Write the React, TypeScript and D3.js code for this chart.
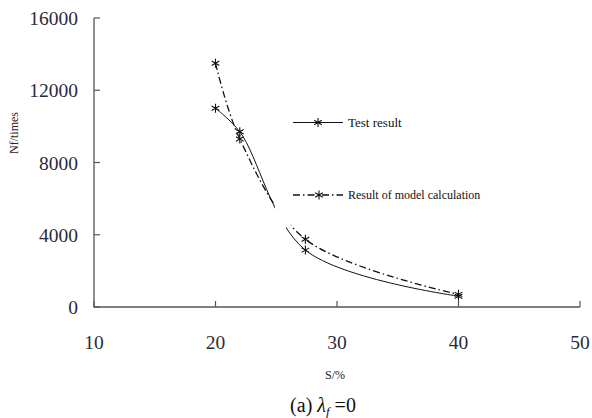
import * as d3 from 'd3';

const sValues = [20, 22, 27.4, 40];
const testResult = [11000, 9700, 3150, 600];
const modelResult = [13500, 9300, 3750, 700];
const xTicks = [10, 20, 30, 40, 50];
const yTicks = [0, 4000, 8000, 12000, 16000];
// the curves are broken in the original between these S values
const testGap = [24.9, 25.8];
const modelGap = [24.9, 26.2];

const W = 592;
const H = 418;
const serif = '"Liberation Serif", "DejaVu Serif", serif';

const x = d3.scaleLinear().domain([10, 50]).range([94, 580]);
const y = d3.scaleLinear().domain([0, 16000]).range([307, 18]);

const line = d3
  .line<[number, number]>()
  .x((d) => x(d[0]))
  .y((d) => y(d[1]))
  .curve(d3.curveCatmullRom.alpha(0.5));

function Star({ cx, cy, r = 4.5 }: { cx: number; cy: number; r?: number }) {
  const a = r * 0.85;
  const b = r * 0.5;
  return (
    <path
      d={`M${cx},${cy - r}L${cx},${cy + r}M${cx - a},${cy - b}L${cx + a},${cy + b}M${cx - a},${cy + b}L${cx + a},${cy - b}`}
      stroke="#111"
      strokeWidth={1.1}
      fill="none"
    />
  );
}

export default function App() {
  const testPts = sValues.map((s, i) => [s, testResult[i]] as [number, number]);
  const modelPts = sValues.map((s, i) => [s, modelResult[i]] as [number, number]);

  const clipRects = (id: string, gap: number[]) => (
    <clipPath id={id}>
      <rect x={0} y={0} width={x(gap[0])} height={H} />
      <rect x={x(gap[1])} y={0} width={W - x(gap[1])} height={H} />
    </clipPath>
  );

  return (
    <svg
      width={W}
      height={H}
      style={{ position: 'absolute', left: 0, top: 0, background: '#fff' }}
      fontFamily={serif}
    >
      <defs>
        {clipRects('gapTest', testGap)}
        {clipRects('gapModel', modelGap)}
      </defs>

      {/* axes */}
      <path
        d={`M${x(10)},${y(16000)}L${x(10)},${y(0)}L${x(50)},${y(0)}`}
        stroke="#555"
        strokeWidth={1.3}
        fill="none"
      />
      {yTicks.map((t) => (
        <g key={'y' + t}>
          <line x1={x(10)} x2={x(10) + 6} y1={y(t)} y2={y(t)} stroke="#555" strokeWidth={1.2} />
          <text x={78} y={y(t) + 7} textAnchor="end" fontSize={19.5} fill="#2a2a3a">
            {t}
          </text>
        </g>
      ))}
      {xTicks.map((t) => (
        <g key={'x' + t}>
          <line x1={x(t)} x2={x(t)} y1={y(0)} y2={y(0) - 6} stroke="#555" strokeWidth={1.2} />
          <text x={x(t)} y={349} textAnchor="middle" fontSize={19.5} fill="#2a2a3a">
            {t}
          </text>
        </g>
      ))}

      <text
        transform={`translate(18,133) rotate(-90)`}
        textAnchor="middle"
        fontSize={12}
        fill="#3a2010"
      >
        Nf/times
      </text>
      <text x={335} y={379} textAnchor="middle" fontSize={12} fill="#222">
        S/%
      </text>

      {/* series */}
      <path d={line(testPts) ?? ''} stroke="#111" strokeWidth={1} fill="none" clipPath="url(#gapTest)" />
      <path
        d={line(modelPts) ?? ''}
        stroke="#111"
        strokeWidth={1.3}
        strokeDasharray="7,3,1.5,3"
        fill="none"
        clipPath="url(#gapModel)"
      />
      {testPts.map((d, i) => (
        <Star key={'t' + i} cx={x(d[0])} cy={y(d[1])} />
      ))}
      {modelPts.map((d, i) => (
        <Star key={'m' + i} cx={x(d[0])} cy={y(d[1])} />
      ))}

      {/* legend */}
      <line x1={293} x2={343} y1={122.5} y2={122.5} stroke="#111" strokeWidth={1} />
      <Star cx={318} cy={122.5} />
      <text x={348} y={127} fontSize={13} fill="#111">
        Test result
      </text>
      <line
        x1={293}
        x2={343}
        y1={195}
        y2={195}
        stroke="#111"
        strokeWidth={1.3}
        strokeDasharray="7,3,1.5,3"
      />
      <Star cx={319} cy={195} />
      <text x={348} y={199} fontSize={12} fill="#111">
        Result of model calculation
      </text>

      {/* caption */}
      <text x={323} y={412} textAnchor="middle" fontSize={20} fill="#111">
        (a) <tspan fontStyle="italic">λ</tspan>
        <tspan fontStyle="italic" fontSize={13} dy={4}>f</tspan>
        <tspan dy={-4}> =0</tspan>
      </text>
    </svg>
  );
}
